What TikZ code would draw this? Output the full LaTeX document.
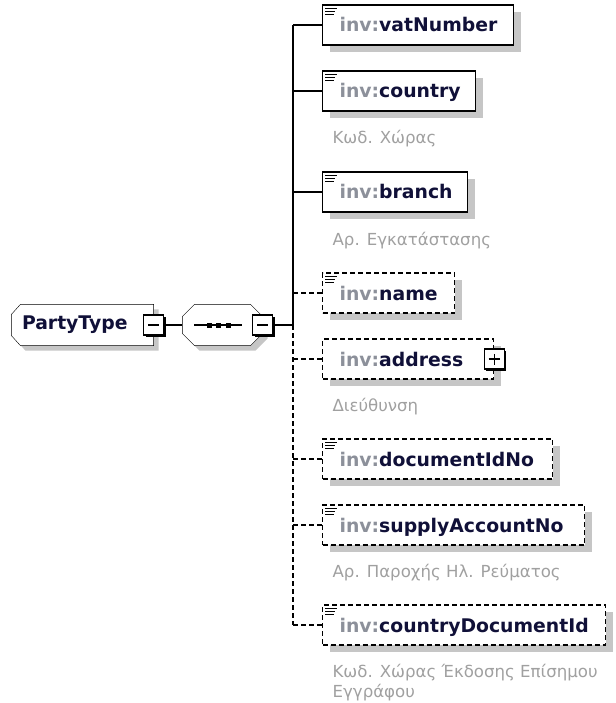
\documentclass[tikz,border=0pt]{standalone}
\usepackage{fontspec}
\setmainfont{DejaVu Sans}
\usetikzlibrary{shadows,backgrounds}

\definecolor{shadowgrey}{HTML}{C6C6C6}
\definecolor{prefixgrey}{HTML}{8C909A}
\definecolor{namenavy}{HTML}{101038}
\definecolor{notegrey}{HTML}{A0A0A0}
\newcommand{\inv}[1]{{\color{prefixgrey}inv:}#1}

\begin{document}
\begin{tikzpicture}[x=1pt,y=-1pt,line width=1.2pt]
\useasboundingbox (0,0) rectangle (615,703);
\tikzstyle{elem}=[draw,fill=white,minimum height=40pt,inner sep=0pt,anchor=west,
  drop shadow={shadow xshift=7pt,shadow yshift=-7pt,fill=shadowgrey,opacity=1}]
\tikzstyle{opt}=[dash pattern=on 5pt off 3pt]
\tikzstyle{tag}=[font=\fontsize{18.8}{22}\selectfont\bfseries,text=namenavy,inner sep=0pt,anchor=base west]
\tikzstyle{note}=[font=\fontsize{16.6}{20}\selectfont,text=notegrey,inner sep=0pt,anchor=base west,align=left]
\tikzstyle{outline}=[draw,fill=white,
  drop shadow={shadow xshift=5pt,shadow yshift=-5pt,fill=shadowgrey,opacity=1}]
\tikzstyle{pmbox}=[draw,fill=white,minimum size=20pt,inner sep=0pt,
  drop shadow={shadow xshift=2pt,shadow yshift=-2pt,fill=black,opacity=1}]
\tikzstyle{minus}=[pmbox,path picture={
  \draw ([xshift=-5.5pt]path picture bounding box.center) -- ([xshift=5.5pt]path picture bounding box.center);}]
\tikzstyle{plus}=[pmbox,path picture={
  \draw ([xshift=-5.5pt]path picture bounding box.center) -- ([xshift=5.5pt]path picture bounding box.center);
  \draw ([yshift=-5.5pt]path picture bounding box.center) -- ([yshift=5.5pt]path picture bounding box.center);}]

% complex type and sequence
\node[minimum height=40pt,text width=121pt,inner xsep=10pt,inner ysep=0pt,align=left,
  font=\fontsize{18.8}{22}\selectfont\bfseries,text=namenavy] (pt) at (82.5,325) {PartyType};
\node[minimum width=79pt,minimum height=40pt,inner sep=0pt] (seq) at (222.5,325) {};
\begin{scope}[on background layer]
  \path[outline] ([xshift=9pt]pt.north west) -- (pt.north east) -- (pt.south east)
    -- ([xshift=9pt]pt.south west) -- ([yshift=10pt]pt.south west)
    -- ([yshift=-10pt]pt.north west) -- cycle;
  \path[outline] ([xshift=12pt]seq.north west) -- ([xshift=-12pt]seq.north east)
    -- ([yshift=-12pt]seq.north east) -- ([yshift=12pt]seq.south east)
    -- ([xshift=-12pt]seq.south east) -- ([xshift=12pt]seq.south west)
    -- ([yshift=12pt]seq.south west) -- ([yshift=-12pt]seq.north west) -- cycle;
\end{scope}
\draw ([xshift=-28.5pt]seq.center) -- ([xshift=19.5pt]seq.center);
\foreach \d in {-13.5,-4.5,5.5}
  \fill ([xshift=\d pt]seq.center) +(-2.5,-2.5) rectangle +(2.5,2.5);
\node[minus] (ptm) at (pt.east) {};
\node[minus] (seqm) at (seq.east) {};
\coordinate (fork) at (293,325);

% child elements
\foreach \n/\y/\w/\s/\t in {vat/25/191/solid/vatNumber, cty/91/153/solid/country,
    brn/192/145/solid/branch, nam/293/132/opt/name, adr/359/171/opt/address,
    doc/459/230/opt/documentIdNo, sup/525/262/opt/supplyAccountNo,
    cdi/625/283/opt/countryDocumentId}{
  \node[elem,\s,minimum width=\w pt] (\n) at (322,\y) {};
  \node[tag] (\n-t) at ([xshift=17pt,yshift=-7pt]\n.west) {\inv{\t}};
}
\foreach \n in {vat,cty,brn,nam,doc,sup,cdi}{
  \draw ([xshift=3pt,yshift=-4pt]\n.north west) -- ++(12,0);
  \draw ([xshift=3pt,yshift=-7pt]\n.north west) -- ++(10,0);
  \draw ([xshift=3pt,yshift=-10pt]\n.north west) -- ++(9,0);
}
\node[plus] (adrp) at (adr.east) {};

% annotations
\node[note] (cty-d) at ([xshift=10pt,yshift=-53pt]cty.west) {Κωδ. Χώρας};
\node[note] (brn-d) at ([xshift=10pt,yshift=-53pt]brn.west) {Αρ. Εγκατάστασης};
\node[note] (adr-d) at ([xshift=10pt,yshift=-52pt]adr.west) {Διεύθυνση};
\node[note] (sup-d) at ([xshift=10pt,yshift=-52pt]sup.west) {Αρ. Παροχής Ηλ. Ρεύματος};
\node[note] (cdi-d) at ([xshift=10pt,yshift=-72pt]cdi.west) {Κωδ. Χώρας Έκδοσης Επίσημου\\Εγγράφου};

% connectors
\draw (ptm.east) -- (seq.west);
\draw (seqm.east) -- (fork);
\draw (fork |- vat) -- (fork);
\draw[opt] (fork) -- (fork |- cdi);
\foreach \n in {vat,cty,brn}
  \draw (fork |- \n) -- (\n.west);
\foreach \n in {nam,adr,doc,sup,cdi}
  \draw[opt] (fork |- \n) -- (\n.west);
\end{tikzpicture}
\end{document}
